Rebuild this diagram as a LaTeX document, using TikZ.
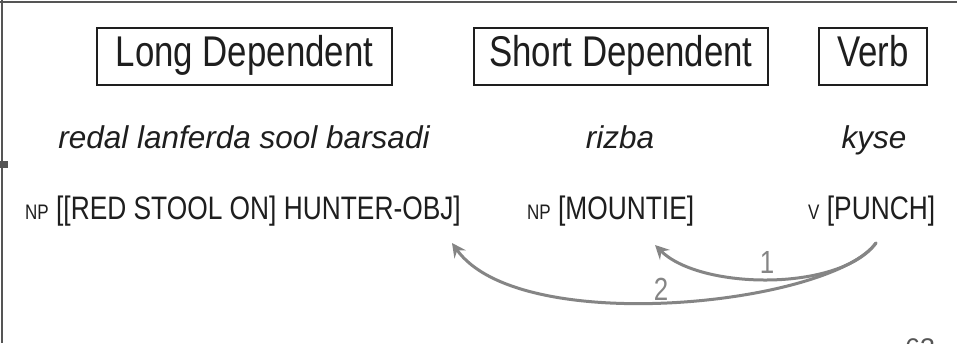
\documentclass[tikz,border=0pt]{standalone}
\usepackage{fontspec}
\setmainfont{Liberation Sans}
\newfontfamily\narrowfont[FakeStretch=0.81]{Liberation Sans}
\usetikzlibrary{arrows.meta}
\definecolor{ink}{HTML}{1E1E1E}
\definecolor{rule}{HTML}{555555}
\definecolor{arc}{HTML}{858585}
\newcommand\cat[1]{{\fontsize{21}{21}\selectfont #1}}
\begin{document}
\begin{tikzpicture}[x=1pt,y=-1pt,
  heading/.style={draw=ink, line width=2pt, inner sep=0pt, text=ink,
    text height=38pt, text depth=19pt, anchor=base,
    font=\narrowfont\fontsize{43}{43}\selectfont},
  gloss/.style={anchor=base, inner sep=0pt, text=ink,
    font=\itshape\fontsize{31.5}{31.5}\selectfont},
  phrase/.style={anchor=base west, inner sep=0pt, text=ink,
    font=\narrowfont\fontsize{32.5}{32.5}\selectfont},
  dep/.style={draw=arc, line width=3pt, line cap=round,
    -{Stealth[length=14pt,width=14pt,inset=5pt]}},
  deplabel/.style={inner sep=0pt, text=arc,
    font=\narrowfont\fontsize{32}{32}\selectfont}]
  % page area and frame
  \fill[white] (0,0) rectangle (957,343);
  \useasboundingbox (0,0) rectangle (957,343);
  \draw[rule, line width=2pt] (0,1.5) -- (957,1.5);
  \draw[rule, line width=2pt] (1.5,0) -- (1.5,343);
  \fill[rule] (0,161) rectangle (8,168);

  % column headings
  \node[heading, minimum width=295pt] (long)  at (244.5,66) {Long Dependent};
  \node[heading, minimum width=294pt] (short) at (621,66)   {Short Dependent};
  \node[heading, minimum width=108pt] (verb)  at (873,66)   {Verb};

  % words
  \node[gloss] (w1) at (244,148) {redal lanferda sool barsadi};
  \node[gloss] (w2) at (620,148) {rizba};
  \node[gloss] (w3) at (874,148) {kyse};

  % bracketed phrases
  \node[phrase] (hunter)  at (25,219)  {\cat{NP} [[RED STOOL ON] HUNTER-OBJ]};
  \node[phrase] (mountie) at (527,219) {\cat{NP} [MOUNTIE]};
  \node[phrase] (punch)   at (808,219) {\cat{V} [PUNCH]};

  % dependency arcs
  \coordinate (vtail) at (876,243);
  \coordinate (tip1)  at (655,245);
  \coordinate (tip2)  at (452,243);
  \draw[dep] (vtail) .. controls (830,305) and (520,338) .. (tip2);
  \draw[dep] (vtail) .. controls (840,292) and (700,290) .. (tip1);
  \node[deplabel] (n1) at (767,262) {1};
  \node[deplabel] (n2) at (661,289) {2};

  % page number at the lower edge
  \begin{scope}
    \clip (0,0) rectangle (957,343);
    \node[anchor=base west, inner sep=0pt, text=rule,
      font=\fontsize{27}{27}\selectfont] (page) at (905,357) {63};
  \end{scope}
\end{tikzpicture}
\end{document}
